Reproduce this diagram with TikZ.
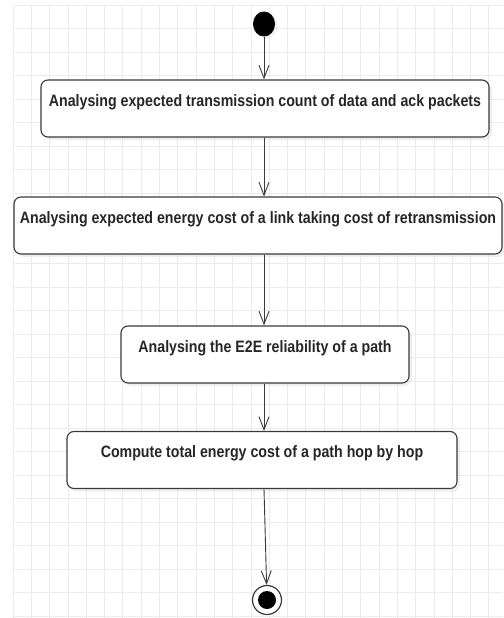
\documentclass[tikz,border=0pt]{standalone}
\usepackage{fontspec}
\setmainfont{Liberation Sans}
\newfontfamily\boxfont[FakeStretch=0.86]{Liberation Sans}
\usetikzlibrary{arrows.meta,shapes.geometric,shadows}
\definecolor{linegray}{HTML}{3A3A3A}
\definecolor{gridgray}{HTML}{EBEBEB}
\tikzstyle{block} = [rectangle, draw=linegray, line width=1.1pt, fill=white,
    rounded corners=7pt, align=center, inner ysep=5pt, inner xsep=0pt,
    text height=21pt, text depth=26pt, text=black!85,
    font=\boxfont\bfseries\fontsize{16.5}{19}\selectfont,
    drop shadow={shadow xshift=3pt, shadow yshift=-3pt, fill=black!12}]
\tikzstyle{line} = [draw, line width=0.9pt, color=linegray,
    -{Straight Barb[length=13pt,width=10pt,line width=0.9pt]}]
\tikzstyle{initial} = [ellipse, fill=black, minimum width=22pt, minimum height=25pt,
    inner sep=0pt, drop shadow={shadow xshift=3pt, shadow yshift=-2pt, fill=black!10}]
\tikzstyle{final} = [circle, draw=linegray, line width=1.2pt, fill=white,
    minimum size=29pt, inner sep=0pt]

\begin{document}
\begin{tikzpicture}[x=1pt, y=-1pt, node distance=100pt]
    \useasboundingbox (0,0) rectangle (503,618);
    % Grid
    \begin{scope}[shift={(13,5)}]
    \draw [gridgray, line width=0.8pt, xstep=18.3pt, ystep=23.5pt] (0,0) grid (490,613);
    \end{scope}

    % Place nodes
    \node [initial] (start) at (264,24) {};
    \node [block, below of=start, node distance=84.5pt, minimum width=448pt, xshift=1pt] (etx)
        {Analysing expected transmission count of data and ack packets};
    \node [block, below of=etx, node distance=117pt, minimum width=488pt, xshift=-7pt] (linkCost)
        {Analysing expected energy cost of a link taking cost of retransmission};
    \node [block, below of=linkCost, node distance=129pt, minimum width=288pt, xshift=7pt] (reliability)
        {Analysing the E2E reliability of a path};
    \node [block, below of=reliability, node distance=105.5pt, minimum width=390pt, xshift=-3pt] (totalCost)
        {Compute total energy cost of a path hop by hop};
    \node [final, below of=totalCost, node distance=140pt, xshift=5pt] (stop) {};
    \fill (stop) circle (9pt);

    % Draw edges
    \path [line] (start) -- (etx.north -| start);
    \path [line] (etx.south -| start) -- (linkCost.north -| start);
    \path [line] (linkCost.south -| start) -- (reliability.north -| start);
    \path [line] (reliability.south -| start) -- (totalCost.north -| start);
    \path [line] (totalCost.south -| start) -- (stop);
\end{tikzpicture}
\end{document}
